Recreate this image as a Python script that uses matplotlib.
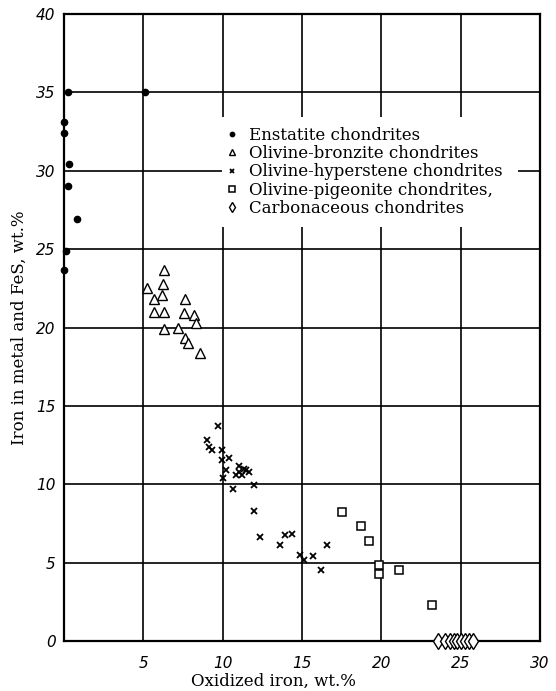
import matplotlib
matplotlib.use("Agg")
import matplotlib.pyplot as plt
from matplotlib.patches import Rectangle

# valores (hierro oxidado vs hierro en metal + FeS)
enst_x = [0.25, 5.1, 0.0, 0.0, 0.3, 0.25, 0.8, 0.1, 0.0]
enst_y = [35.0, 35.0, 33.1, 32.4, 30.4, 29.0, 26.9, 24.9, 23.7]

bronz_x = [6.3, 5.2, 6.25, 5.7, 6.15, 7.65, 5.65, 6.3, 7.55, 8.2, 8.3, 6.3, 7.2, 7.6, 7.8, 8.6]
bronz_y = [23.7, 22.5, 22.8, 21.8, 22.1, 21.8, 21.0, 21.0, 20.9, 20.8, 20.3, 19.9, 20.0, 19.3, 19.0, 18.4]

hyp_x = [9.7, 9.0, 9.15, 9.3, 9.95, 9.95, 10.4, 10.2, 11.0, 11.35, 11.5, 11.65, 11.05, 10.85,
         11.2, 10.05, 10.65, 11.95, 11.95, 12.35, 13.9, 14.4, 13.6, 14.9, 15.1, 15.7, 16.55, 16.2]
hyp_y = [13.7, 12.8, 12.4, 12.2, 12.2, 11.55, 11.7, 10.9, 11.15, 11.0, 10.9, 10.75, 10.8, 10.6,
         10.6, 10.4, 9.7, 9.95, 8.3, 6.65, 6.75, 6.85, 6.1, 5.5, 5.15, 5.45, 6.1, 4.5]

pig_x = [17.5, 18.7, 19.2, 19.85, 19.85, 21.1, 23.2]
pig_y = [8.25, 7.35, 6.4, 4.85, 4.25, 4.55, 2.3]

carb_x = [23.6, 24.0, 24.3, 24.55, 24.8, 25.05, 25.3, 25.55, 25.8]
carb_y = [0, 0, 0, 0, 0, 0, 0, 0, 0]

labels = ["Enstatite chondrites", "Olivine-bronzite chondrites", "Olivine-hyperstene chondrites",
          "Olivine-pigeonite chondrites,", "Carbonaceous chondrites"]

xticks = [0, 5, 10, 15, 20, 25, 30]
yticks = [0, 5, 10, 15, 20, 25, 30, 35, 40]

fig = plt.figure(figsize=(5.56, 6.91), dpi=100)
ax = fig.add_axes([64 / 556, 1 - 641 / 691, 476 / 556, 627 / 691])

ax.set_xlim(0, 30)
ax.set_ylim(0, 40)
ax.set_xticks(xticks)
ax.set_yticks(yticks)
tick_font = dict(fontstyle="italic", fontsize=11, family="DejaVu Sans")
ax.set_xticklabels([""] + [str(t) for t in xticks[1:]], **tick_font)
ax.set_yticklabels([str(t) for t in yticks], **tick_font)
ax.tick_params(length=0)
ax.tick_params(axis="x", pad=11)
ax.tick_params(axis="y", pad=6)

ax.grid(True, color="black", linewidth=1.2)
ax.set_axisbelow(True)
for s in ax.spines.values():
    s.set_linewidth(1.6)

# caja blanca de la leyenda (tapa la rejilla)
ax.add_patch(Rectangle((9.95, 26.4), 18.65, 7.0, facecolor="white", edgecolor="none", zorder=1.5))

h1, = ax.plot(enst_x, enst_y, "o", ms=4.5, color="black", ls="none", clip_on=False, zorder=4)
h2, = ax.plot(bronz_x, bronz_y, "^", ms=6.5, mfc="white", mec="black", mew=1.0, ls="none", zorder=4)
h3, = ax.plot(hyp_x, hyp_y, "x", ms=3.8, color="black", mew=1.3, ls="none", zorder=4)
h4, = ax.plot(pig_x, pig_y, "s", ms=6, mfc="white", mec="black", mew=1.1, ls="none", zorder=4)
h5, = ax.plot(carb_x, carb_y, "d", ms=8, mfc="white", mec="black", mew=1.0, ls="none",
              clip_on=False, zorder=5)

leg = ax.legend([h1, h2, h3, h4, h5], labels, loc="upper left", bbox_to_anchor=(0.322, 0.833),
                frameon=False, markerscale=0.7, numpoints=1, handlelength=0.8,
                handletextpad=0.6, labelspacing=0.07, borderpad=0,
                prop={"family": "DejaVu Serif", "size": 12})

ax.set_ylabel("Iron in metal and FeS, wt.%", family="DejaVu Serif", fontsize=12, labelpad=6)
fig.text(273 / 556, 1 - 681 / 691, "Oxidized iron, wt.%", family="DejaVu Serif",
         fontsize=12, ha="center", va="center")

fig.savefig("out.png", dpi=100)
